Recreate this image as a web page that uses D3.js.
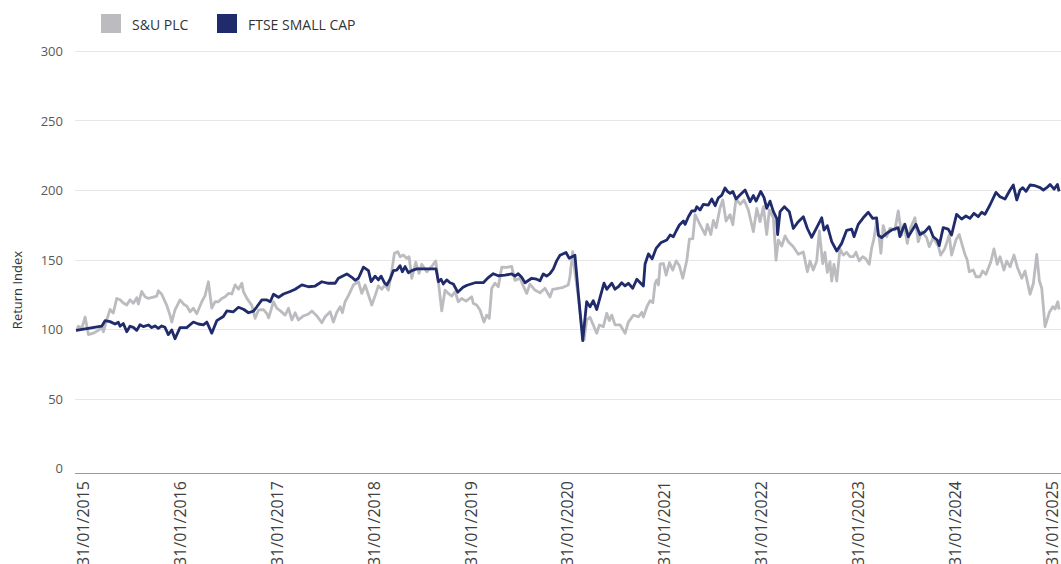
<!DOCTYPE html>
<html>
<head>
<meta charset="utf-8">
<script src="https://cdn.jsdelivr.net/npm/d3@7"></script>
<style>
  html, body { margin: 0; padding: 0; background: #ffffff; }
  svg { display: block; font-family: "Open Sans", "Noto Sans", sans-serif; }
</style>
</head>
<body>
<svg id="chart" width="1061" height="564"></svg>
<script>
// ---- data (dates as decimal years, values as return index) ----
const seriesNames = ["S&U PLC", "FTSE SMALL CAP"];
const yTicks = [0, 50, 100, 150, 200, 250, 300];
const xTickYears = [2015, 2016, 2017, 2018, 2019, 2020, 2021, 2022, 2023, 2024, 2025];
const xTickLabels = ["31/01/2015","31/01/2016","31/01/2017","31/01/2018","31/01/2019","31/01/2020","31/01/2021","31/01/2022","31/01/2023","31/01/2024","31/01/2025"];

const ftseDates = [2015.083,2015.344,2015.378,2015.429,2015.480,2015.513,2015.531,2015.564,2015.599,2015.632,2015.666,2015.701,2015.734,2015.768,2015.819,2015.853,2015.887,2015.920,2015.955,2015.988,
2016.022,2016.057,2016.090,2016.141,2016.209,2016.276,2016.327,2016.378,2016.413,2016.463,2016.514,2016.581,2016.616,2016.683,2016.734,2016.785,2016.836,2016.887,2016.921,2016.972,
2017.023,2017.057,2017.090,2017.141,2017.192,2017.260,2017.311,2017.379,2017.446,2017.514,2017.582,2017.650,2017.718,2017.751,2017.837,2017.888,2017.921,2017.955,
2018.006,2018.057,2018.084,2018.125,2018.158,2018.186,2018.219,2018.244,2018.277,2018.311,2018.345,2018.379,2018.402,2018.430,2018.463,2018.498,2018.549,2018.745,2018.769,2018.796,2018.819,2018.854,2018.888,2018.921,2018.966,
2019.020,2019.061,2019.142,2019.226,2019.277,2019.328,2019.379,2019.447,2019.515,2019.549,2019.582,2019.617,2019.651,2019.719,2019.770,2019.803,2019.837,2019.871,2019.905,2019.939,2019.973,
2020.007,2020.068,2020.101,2020.159,2020.193,2020.238,2020.278,2020.312,2020.345,2020.380,2020.414,2020.454,2020.482,2020.533,2020.566,2020.600,2020.634,2020.668,2020.701,2020.746,2020.787,2020.854,2020.871,2020.905,2020.943,2020.983,
2021.030,2021.092,2021.126,2021.159,2021.187,2021.220,2021.261,2021.278,2021.312,2021.346,2021.380,2021.397,2021.431,2021.464,2021.515,2021.550,2021.584,2021.617,2021.652,2021.685,2021.709,2021.736,2021.764,2021.797,2021.831,2021.889,2021.940,2021.973,
2022.001,2022.048,2022.082,2022.109,2022.143,2022.177,2022.211,2022.220,2022.245,2022.289,2022.339,2022.380,2022.431,2022.482,2022.523,2022.567,2022.618,2022.669,2022.692,2022.726,2022.771,2022.822,2022.872,2022.923,2022.974,2022.998,
2023.041,2023.092,2023.143,2023.188,2023.228,2023.245,2023.279,2023.330,2023.381,2023.448,2023.465,2023.499,2023.516,2023.550,2023.601,2023.628,2023.669,2023.720,2023.764,2023.804,2023.845,2023.865,2023.906,2023.957,2023.991,
2024.042,2024.093,2024.137,2024.178,2024.218,2024.262,2024.297,2024.330,2024.381,2024.442,2024.483,2024.534,2024.585,2024.618,2024.653,2024.686,2024.714,2024.747,2024.788,2024.839,2024.890,2024.923,2024.958,2024.991,
2025.032,2025.066,2025.083];
const ftseValues = [99,102,106,105.3,103.6,104.8,102,104,98,102,101.2,99,103,101.7,102.9,101,102.2,100.5,102.2,101.2,
96,99.3,93,101,101,105,103.6,103,105,97,106,109,113,112.4,115.6,114.2,111.7,112.9,116,121,
120.9,119.6,125,122.8,125.2,127,128.6,131.7,130.4,130.9,134,132.9,132.9,136.5,139.6,137.2,135,136.5,
144.5,142,134,138,135.3,138,133.3,131.7,135.8,142,142.4,145.6,141.2,144.9,140.5,142,143.2,143.2,134,135.8,132.4,135.3,133.3,132.4,126.5,
130,131.5,133.3,133.3,137,139.8,138.3,138.8,139.6,138.1,139.8,137.2,133.3,136.5,135.8,134.7,139.6,138.1,139.8,143.2,149,
153,155,150.9,153,125.6,91.6,119.6,116,120.4,114,122.8,133,128.6,133,128.6,130.4,133.3,131,132.9,129.3,135.8,131,146.8,154,150.5,158,
162,164,167.6,166.4,170.5,174.8,177.7,175.3,180.8,184.9,185,188,185.6,189.7,189.2,193.5,188.7,194.4,196.3,201.5,199,197.6,199,193.5,196,200,191.6,196,
192,199,194.5,186.8,192,184.4,179.6,168,184.4,188,184.4,172.3,177.2,180.8,172.3,166,172.9,180,171.2,174.3,162.8,156.1,161.6,171,171.9,166.4,
175.3,180,184,179.6,180,167.6,165.7,168.8,171.2,172.9,166.4,172.9,175.3,166.4,172.3,175.3,168,170,173.6,166.4,164,160,172.9,171.9,167.6,
182.5,179.1,181.3,179.6,183.2,180.8,184,182.5,189.2,198.3,195.2,193.5,200,203.6,192.8,200,201.7,199,203.6,203.1,201.7,200,201.7,204,
200.6,204,199];

const suDates = [2015.083,2015.106,2015.141,2015.175,2015.208,2015.259,2015.310,2015.344,2015.361,2015.395,2015.429,2015.462,2015.497,2015.531,2015.564,2015.599,2015.632,2015.666,2015.701,2015.717,2015.751,2015.785,2015.819,2015.869,2015.904,2015.920,2015.955,
2016.006,2016.039,2016.057,2016.090,2016.141,2016.175,2016.209,2016.243,2016.276,2016.311,2016.362,2016.395,2016.429,2016.463,2016.497,2016.531,2016.565,2016.599,2016.632,2016.667,2016.700,2016.734,2016.769,2016.785,2016.820,2016.870,2016.904,2016.938,2016.988,
2017.023,2017.041,2017.090,2017.125,2017.158,2017.209,2017.243,2017.277,2017.311,2017.344,2017.395,2017.446,2017.481,2017.532,2017.582,2017.616,2017.667,2017.700,2017.735,2017.769,2017.792,2017.819,2017.853,2017.904,2017.955,2017.989,
2018.023,2018.091,2018.125,2018.158,2018.193,2018.226,2018.260,2018.295,2018.321,2018.356,2018.379,2018.413,2018.447,2018.471,2018.498,2018.539,2018.572,2018.600,2018.651,2018.701,2018.742,2018.769,2018.803,2018.837,2018.870,2018.905,2018.939,2018.972,
2019.007,2019.050,2019.108,2019.125,2019.159,2019.193,2019.233,2019.261,2019.287,2019.312,2019.345,2019.379,2019.414,2019.464,2019.515,2019.549,2019.600,2019.633,2019.668,2019.701,2019.752,2019.803,2019.854,2019.905,2019.932,2019.989,
2020.040,2020.091,2020.108,2020.136,2020.159,2020.193,2020.227,2020.251,2020.278,2020.312,2020.345,2020.380,2020.407,2020.447,2020.482,2020.508,2020.533,2020.566,2020.617,2020.668,2020.701,2020.753,2020.803,2020.838,2020.854,2020.889,2020.922,2020.950,2020.973,2020.990,
2021.007,2021.024,2021.058,2021.085,2021.119,2021.153,2021.187,2021.220,2021.255,2021.296,2021.322,2021.357,2021.380,2021.431,2021.482,2021.505,2021.540,2021.566,2021.594,2021.634,2021.662,2021.695,2021.736,2021.764,2021.797,2021.838,2021.879,2021.922,2021.973,
2022.008,2022.041,2022.075,2022.109,2022.136,2022.177,2022.204,2022.227,2022.262,2022.296,2022.329,2022.380,2022.431,2022.482,2022.523,2022.550,2022.583,2022.618,2022.645,2022.679,2022.702,2022.726,2022.753,2022.771,2022.794,2022.822,2022.855,2022.889,2022.923,2022.957,2022.990,
2023.018,2023.051,2023.086,2023.119,2023.153,2023.177,2023.201,2023.228,2023.255,2023.272,2023.295,2023.330,2023.364,2023.414,2023.448,2023.483,2023.506,2023.540,2023.574,2023.618,2023.652,2023.686,2023.737,2023.764,2023.804,2023.855,2023.880,2023.923,2023.967,2023.991,
2024.035,2024.069,2024.103,2024.127,2024.150,2024.171,2024.211,2024.239,2024.279,2024.307,2024.340,2024.388,2024.422,2024.455,2024.483,2024.523,2024.551,2024.585,2024.625,2024.659,2024.704,2024.737,2024.788,2024.822,2024.856,2024.883,2024.907,2024.940,2024.984,
2025.019,2025.042,2025.070,2025.083];
const suValues = [98,102,100.5,108.6,96,97,99,101.2,98,106.5,114,111.5,122,121,118.7,117.3,121,118.5,122.5,118,127,123.2,122,123,123.7,127.5,125,
117,110,105,113.7,120.9,118,116.5,112.4,114.9,111,119.6,124,134,115,119.6,119.6,122,123.2,125.6,125.2,131.7,128.6,132.9,126.8,122,117,107.7,113.7,114,
111,108,119.6,114.9,113.2,110,114.9,106.5,111.7,106.5,109.4,110.8,113,109.4,104.5,108.8,112.4,105,112,116,111.7,119.6,124,131.7,134,125.6,
131.7,117.3,124,131,128.6,131.7,128,142,154.4,155.6,152,153.2,150.8,152,136.5,148,140,146.6,141.2,145,149,134,113,128,125.6,123.7,126.8,119.6,
122,120,123.2,118.4,117.3,113.7,105,110,107.7,129.3,133,130.4,144.5,144.4,145,135,136.5,131,125.6,132.3,128,126,129.3,123,128.5,129.3,
130,131.7,137.6,155.6,140.6,123.2,101.7,92.1,106.5,108.4,102.9,96.9,102.9,101.7,111.3,106,110,103,103,96.9,105,110,108.8,112,108.5,116,120.4,119,133,135.3,
131.7,146.8,147.1,138.8,147.8,142.4,149,145.5,136.5,149.6,164.7,165,182.3,175,167.9,175.3,168,178.2,172.9,187.3,192.8,177.7,182.3,175,193.8,189.7,192.8,185.6,170,
186.8,177.2,188,168,185.6,180,149.6,164,159.7,167,162.8,159.2,153.7,155.4,141.2,148.9,142.4,149,170.5,147,155.2,140.8,148.4,134.5,146.5,134.5,157.6,153.2,155.2,152,152,
155.2,149,152,150.4,146.5,158,165,178,165,154.5,174.3,166.4,172.4,171.2,184.9,167.6,175.3,161.6,172.9,180,162.8,170,165.7,159.2,165.7,159.9,153.2,158,167.6,153.2,
164,168,159.5,153.7,149.6,141.2,142.4,137.6,137.6,141.7,139.3,148,157.6,146.5,152,142.4,148.9,144.8,153.2,144.5,136.5,141.7,125,132.9,153.7,134.5,129.3,101.7,112,
116,114.4,119.6,114];

// ---- helpers ----
function toDate(t) {
  const y = Math.floor(t);
  const s = Date.UTC(y, 0, 1), e = Date.UTC(y + 1, 0, 1);
  return new Date(s + (t - y) * (e - s));
}
const colors = ["#bcbcc0", "#1f2b6b"];

const svg = d3.select("#chart");
const W = 1061, H = 564;
const plot = { left: 76, right: 1059, top: 51, bottom: 468 };
const domainDates = [new Date(Date.UTC(2015, 0, 31)), new Date(Date.UTC(2025, 0, 31))];

const x = d3.scaleUtc().domain(domainDates).range([plot.left, plot.right]);
// label band of the category-style date axis (labels sit slightly inside the plot ends)
const xLabel = d3.scaleUtc().domain(domainDates).range([83, 1052]);
const y = d3.scaleLinear().domain([0, 300]).range([plot.bottom, plot.top]);

// gridlines
svg.append("g").selectAll("line").data(yTicks.filter(d => d > 0)).join("line")
  .attr("x1", plot.left - 1).attr("x2", W)
  .attr("y1", d => Math.round(y(d)) + 0.5).attr("y2", d => Math.round(y(d)) + 0.5)
  .attr("stroke", "#e6e6e6").attr("stroke-width", 1);

// y axis labels
svg.append("g").selectAll("text").data(yTicks).join("text")
  .attr("x", 63).attr("y", d => y(d))
  .attr("text-anchor", "end").attr("dominant-baseline", "central")
  .attr("font-size", 13).attr("fill", "#595959")
  .text(d => d);

// bottom axis line
svg.append("line")
  .attr("x1", plot.left - 1).attr("x2", W)
  .attr("y1", plot.bottom + 5.5).attr("y2", plot.bottom + 5.5)
  .attr("stroke", "#9a9a9a").attr("stroke-width", 1);

// x labels
const xTickDates = xTickYears.map(yr => new Date(Date.UTC(yr, 0, 31)));
svg.append("g").selectAll("text").data(xTickDates).join("text")
  .attr("transform", d => `translate(${xLabel(d)},${481}) rotate(-90)`)
  .attr("text-anchor", "end").attr("dominant-baseline", "central")
  .attr("font-size", 16).attr("fill", "#404040")
  .text((d, i) => xTickLabels[i]);

// y title
svg.append("text")
  .attr("transform", `translate(17,290) rotate(-90)`)
  .attr("text-anchor", "middle").attr("dominant-baseline", "central")
  .attr("font-size", 13).attr("fill", "#333")
  .text("Return Index");

// clip
svg.append("defs").append("clipPath").attr("id", "clip")
  .append("rect").attr("x", plot.left).attr("y", 0).attr("width", W - plot.left).attr("height", H);

const line = d3.line().x(d => x(d[0])).y(d => y(d[1]));
const suData = suDates.map((t, i) => [toDate(t), suValues[i]]);
const ftseData = ftseDates.map((t, i) => [toDate(t), ftseValues[i]]);

const g = svg.append("g").attr("clip-path", "url(#clip)");
g.append("path").datum(suData).attr("d", line)
  .attr("fill", "none").attr("stroke", colors[0]).attr("stroke-width", 2.8).attr("stroke-linejoin", "round");
g.append("path").datum(ftseData).attr("d", line)
  .attr("fill", "none").attr("stroke", colors[1]).attr("stroke-width", 2.8).attr("stroke-linejoin", "round");

// legend
const legendX = [101, 217];
const lg = svg.append("g");
seriesNames.forEach((name, i) => {
  lg.append("rect").attr("x", legendX[i]).attr("y", 14).attr("width", 20).attr("height", 19).attr("fill", colors[i]);
  lg.append("text").attr("x", legendX[i] + 31).attr("y", 24)
    .attr("dominant-baseline", "central").attr("font-size", 14).attr("fill", "#333")
    .text(name);
});
</script>
</body>
</html>
